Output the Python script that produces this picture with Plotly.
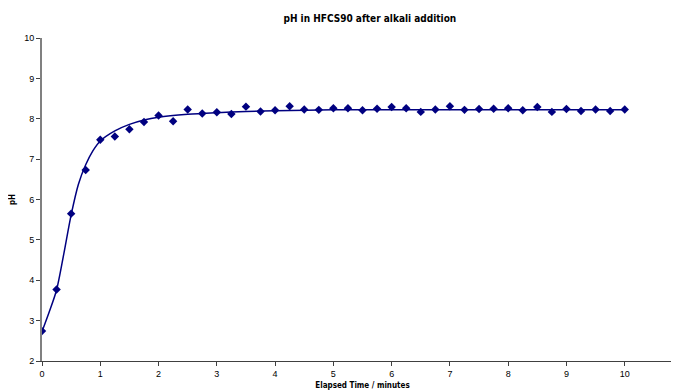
import plotly.graph_objects as go

# Measured data (time in minutes, pH)
time_min = [0, 0.25, 0.5, 0.75, 1, 1.25, 1.5, 1.75, 2, 2.25, 2.5, 2.75, 3, 3.25, 3.5,
            3.75, 4, 4.25, 4.5, 4.75, 5, 5.25, 5.5, 5.75, 6, 6.25, 6.5, 6.75, 7,
            7.25, 7.5, 7.75, 8, 8.25, 8.5, 8.75, 9, 9.25, 9.5, 9.75, 10]
ph_values = [2.74, 3.77, 5.65, 6.73, 7.48, 7.56, 7.74, 7.92, 8.08, 7.94, 8.23, 8.13, 8.16, 8.12, 8.30,
             8.18, 8.21, 8.31, 8.23, 8.22, 8.26, 8.26, 8.21, 8.25, 8.29, 8.26, 8.17, 8.23, 8.31,
             8.22, 8.24, 8.25, 8.26, 8.21, 8.29, 8.17, 8.24, 8.19, 8.23, 8.19, 8.23]

# Fitted curve
fit_time = [0, 0.125, 0.25, 0.375, 0.5, 0.625, 0.75, 0.875, 1, 1.25, 1.5, 1.75, 2,
            2.5, 3, 3.5, 4, 5, 6, 7, 8, 9, 10]
fit_ph = [2.73, 3.22, 3.76, 4.66, 5.62, 6.38, 6.86, 7.21, 7.45, 7.70, 7.86, 7.97, 8.04,
          8.11, 8.15, 8.18, 8.20, 8.22, 8.22, 8.22, 8.22, 8.22, 8.22]

x_ticks = [0, 1, 2, 3, 4, 5, 6, 7, 8, 9, 10, 11]
y_ticks = [2, 3, 4, 5, 6, 7, 8, 9, 10]

fig = go.Figure()
fig.add_trace(go.Scatter(x=fit_time, y=fit_ph, mode="lines",
                         line=dict(color="#000080", width=1.5, shape="spline", smoothing=0.8),
                         showlegend=False, hoverinfo="skip"))
fig.add_trace(go.Scatter(x=time_min, y=ph_values, mode="markers",
                         marker=dict(symbol="diamond", color="#000080", size=6.5),
                         showlegend=False))

fig.update_layout(
    width=679, height=392,
    margin=dict(l=34, r=4, t=30, b=39, autoexpand=False),
    paper_bgcolor="white", plot_bgcolor="white",
    title=dict(text="<b>pH in HFCS90 after alkali addition</b>",
               x=0.533, xanchor="center", y=0.974, yanchor="middle", automargin=False,
               font=dict(family="DejaVu Sans Condensed, DejaVu Sans", size=10, color="black")),
    font=dict(family="Liberation Sans, Arial", size=9, color="black"),
    xaxis=dict(range=[0, 11], tickvals=x_ticks, showgrid=False, zeroline=False,
               showline=True, linecolor="#404040", linewidth=1, automargin=False,
               ticks="outside", ticklen=4, tickcolor="#404040",
               title=dict(text="<b>Elapsed Time / minutes</b>", standoff=4,
                          font=dict(family="DejaVu Sans Condensed, DejaVu Sans", size=8))),
    yaxis=dict(range=[2, 10], tickvals=y_ticks, showgrid=False, zeroline=False,
               showline=True, linecolor="#808080", linewidth=2, automargin=False,
               ticks="outside", ticklen=4, tickcolor="#404040",
               title=dict(text="<b>pH</b>", standoff=8,
                          font=dict(family="DejaVu Sans Condensed, DejaVu Sans", size=8))),
)

fig.write_html("out.html")
